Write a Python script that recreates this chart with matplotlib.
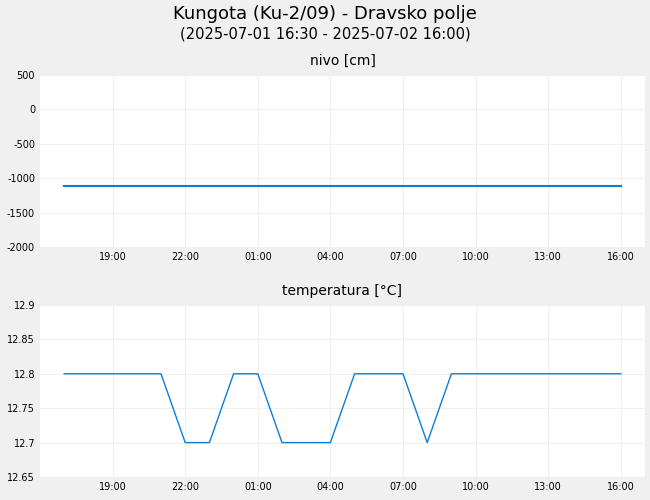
import matplotlib
matplotlib.use("Agg")
import matplotlib.pyplot as plt
import matplotlib.dates as mdates
from datetime import datetime, timedelta

plt.rcParams["axes.unicode_minus"] = False

start = datetime(2025, 7, 1, 17, 0)
times = [start + timedelta(hours=h) for h in range(24)]
nivo = [-1120] * 24
temperatura = [12.8, 12.8, 12.8, 12.8, 12.8, 12.7, 12.7, 12.8, 12.8, 12.7,
               12.7, 12.7, 12.8, 12.8, 12.8, 12.7, 12.8, 12.8, 12.8, 12.8,
               12.8, 12.8, 12.8, 12.8]
xticks = [datetime(2025, 7, 1, 19, 0) + timedelta(hours=3 * i) for i in range(8)]

bg = "#f0f0f0"
line_color = "#0a7fd9"
fig = plt.figure(figsize=(6.5, 5), dpi=100, facecolor=bg)
fig.text(0.5, 0.972, "Kungota (Ku-2/09) - Dravsko polje", ha="center", va="center", fontsize=13)
fig.text(0.5, 0.932, "(2025-07-01 16:30 - 2025-07-02 16:00)", ha="center", va="center", fontsize=10.5)

xmin = datetime(2025, 7, 1, 16, 0)
xmax = datetime(2025, 7, 2, 17, 0)

def style(ax, title):
    ax.set_facecolor("white")
    for s in ax.spines.values():
        s.set_visible(False)
    ax.grid(True, color="#f0f0f0", linewidth=0.8)
    ax.tick_params(length=0, labelsize=7)
    ax.set_xlim(xmin, xmax)
    ax.set_xticks(xticks)
    ax.xaxis.set_major_formatter(mdates.DateFormatter("%H:%M"))
    ax.set_title(title, fontsize=10, pad=7)

ax1 = fig.add_axes([40 / 650, 1 - 247 / 500, 605 / 650, 172 / 500])
ax1.plot(times, nivo, color=line_color, linewidth=1.5)
ax1.set_ylim(-2000, 500)
ax1.set_yticks([-2000, -1500, -1000, -500, 0, 500])
style(ax1, "nivo [cm]")

ax2 = fig.add_axes([40 / 650, 1 - 477 / 500, 605 / 650, 172 / 500])
ax2.plot(times, temperatura, color=line_color, linewidth=1)
ax2.set_ylim(12.65, 12.9)
ax2.set_yticks([12.65, 12.7, 12.75, 12.8, 12.85, 12.9])
ax2.set_yticklabels(["12.65", "12.7", "12.75", "12.8", "12.85", "12.9"])
style(ax2, "temperatura [°C]")

fig.savefig("out.png", dpi=100, facecolor=bg)
